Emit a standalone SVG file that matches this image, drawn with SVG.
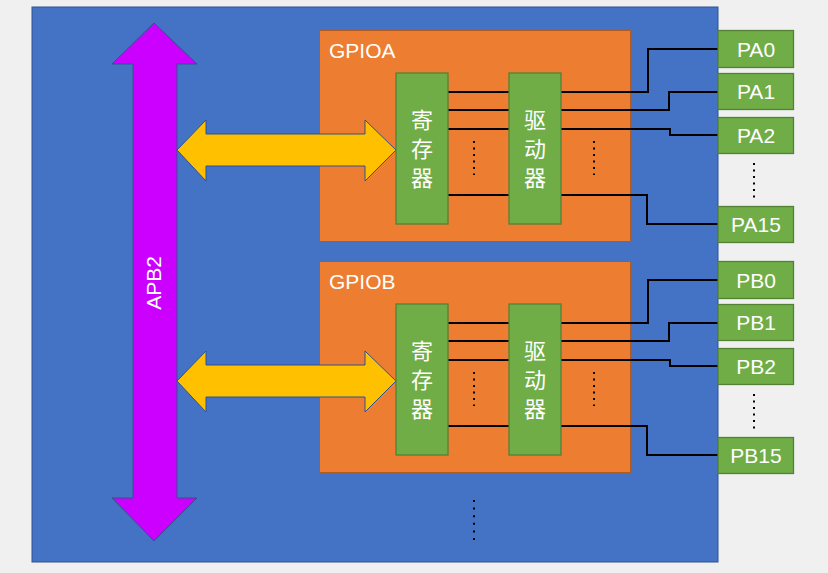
<svg xmlns="http://www.w3.org/2000/svg" width="828" height="573" viewBox="0 0 828 573">
<style>
.bg{fill:#f0f0f0}
.chip{fill:#4472c4;stroke:#2f528f;stroke-width:1}
.port{fill:#ed7d31;stroke:#ae5a21;stroke-width:1}
.gbox{fill:#70ad47;stroke:#548235;stroke-width:1.3}
.wt{fill:#ffffff;font-family:"Liberation Sans","Noto Sans",sans-serif;font-size:21px}
.cjk{fill:#ffffff;font-family:"Noto Sans CJK SC","Noto Sans",sans-serif;font-size:22px;text-anchor:middle}
.pin{fill:#ffffff;font-family:"Liberation Sans","Noto Sans",sans-serif;font-size:21px;text-anchor:middle}
.wire{fill:none;stroke:#000000;stroke-width:2}
.dots{fill:none;stroke:#000000;stroke-width:2;stroke-dasharray:2 4.5}
.bus{fill:#cc00ff;stroke:#2f528f;stroke-width:1}
.yarrow{fill:#ffc000;stroke:#2f528f;stroke-width:1}
</style>
<rect class="bg" x="0" y="0" width="828" height="573"/>
<g id="mcu">
<rect class="chip" x="32" y="7" width="686" height="555"/>
</g>
<g id="gpioa">
<rect class="port" x="319.5" y="30.5" width="311" height="211"/>
<text class="wt" x="329" y="58">GPIOA</text>
</g>
<g id="gpiob">
<rect class="port" x="319.5" y="261.5" width="311" height="211"/>
<text class="wt" x="329" y="289">GPIOB</text>
</g>
<g id="apb2">
<polygon class="bus" points="154,23 197,64 177,64 177,498 197,498 154,541 112,498 133,498 133,64 112,64"/>
<text class="wt" transform="translate(161,283) rotate(-90)" text-anchor="middle">APB2</text>
</g>
<g id="arrow-a">
<polygon class="yarrow" points="177,150 206,120 206,134 365,134 365,120 396,150 365,181 365,166 206,166 206,181"/>
</g>
<g id="arrow-b">
<polygon class="yarrow" points="177,381 206,351 206,365 365,365 365,351 396,381 365,412 365,397 206,397 206,412"/>
</g>
<g id="connectors">
<path class="wire" d="M448,92H509M448,110H509M448,129H509M448,195H509"/>
<path class="wire" d="M561,92H648V49H718M561,110H669V92H718M561,129H670V135H718M561,195H647V224H718"/>
<path class="wire" d="M448,323H509M448,341H509M448,360H509M448,426H509"/>
<path class="wire" d="M561,323H648V280H718M561,341H669V323H718M561,360H670V366H718M561,426H647V455H718"/>
</g>
<g id="dots">
<line class="dots" x1="474" y1="141" x2="474" y2="175"/>
<line class="dots" x1="594" y1="141" x2="594" y2="175"/>
<line class="dots" x1="474" y1="372" x2="474" y2="406"/>
<line class="dots" x1="594" y1="372" x2="594" y2="406"/>
<line class="dots" x1="754" y1="163" x2="754" y2="198"/>
<line class="dots" x1="754" y1="394" x2="754" y2="429"/>
<line class="dots" x1="474" y1="500" x2="474" y2="541" style="stroke-dasharray:2 5.6"/>
</g>
<g id="reg-a">
<rect class="gbox" x="396" y="73" width="52" height="151"/>
<text class="cjk" x="422" y="128">寄</text>
<text class="cjk" x="422" y="157">存</text>
<text class="cjk" x="422" y="186">器</text>
</g>
<g id="drv-a">
<rect class="gbox" x="509" y="73" width="52" height="151"/>
<text class="cjk" x="535" y="128">驱</text>
<text class="cjk" x="535" y="157">动</text>
<text class="cjk" x="535" y="186">器</text>
</g>
<g id="reg-b">
<rect class="gbox" x="396" y="304" width="52" height="151"/>
<text class="cjk" x="422" y="359">寄</text>
<text class="cjk" x="422" y="388">存</text>
<text class="cjk" x="422" y="417">器</text>
</g>
<g id="drv-b">
<rect class="gbox" x="509" y="304" width="52" height="151"/>
<text class="cjk" x="535" y="359">驱</text>
<text class="cjk" x="535" y="388">动</text>
<text class="cjk" x="535" y="417">器</text>
</g>
<g id="pa0"><rect class="gbox" x="718" y="30.5" width="75.5" height="37"/><text class="pin" x="756" y="56.5">PA0</text></g>
<g id="pa1"><rect class="gbox" x="718" y="73.5" width="75.5" height="36"/><text class="pin" x="756" y="99">PA1</text></g>
<g id="pa2"><rect class="gbox" x="718" y="117.5" width="75.5" height="36"/><text class="pin" x="756" y="143">PA2</text></g>
<g id="pa15"><rect class="gbox" x="718" y="206.5" width="75.5" height="36"/><text class="pin" x="756" y="232">PA15</text></g>
<g id="pb0"><rect class="gbox" x="718" y="261.5" width="75.5" height="37"/><text class="pin" x="756" y="287.5">PB0</text></g>
<g id="pb1"><rect class="gbox" x="718" y="304.5" width="75.5" height="36"/><text class="pin" x="756" y="330">PB1</text></g>
<g id="pb2"><rect class="gbox" x="718" y="348.5" width="75.5" height="36"/><text class="pin" x="756" y="374">PB2</text></g>
<g id="pb15"><rect class="gbox" x="718" y="437.5" width="75.5" height="36"/><text class="pin" x="756" y="463">PB15</text></g>
</svg>
